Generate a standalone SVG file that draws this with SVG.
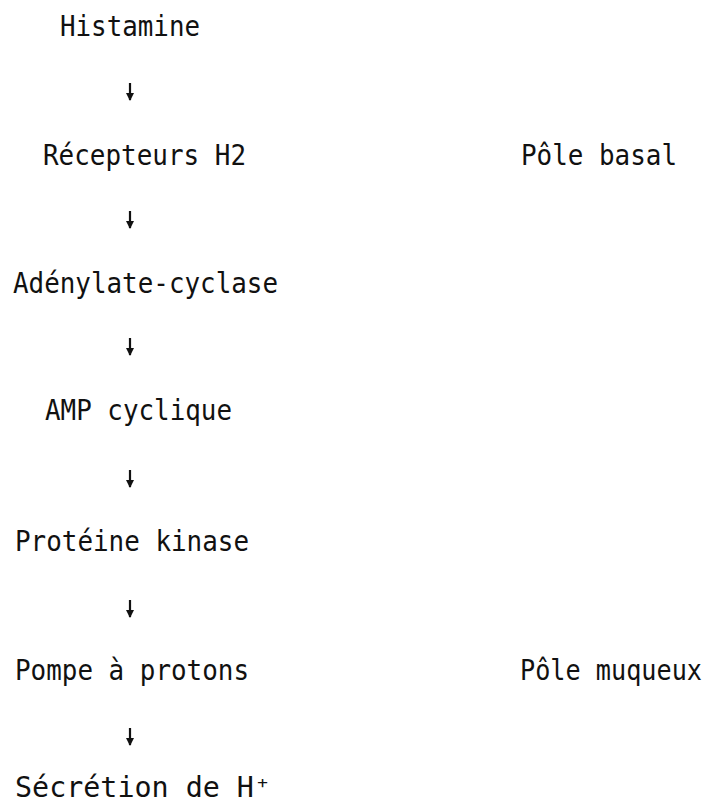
<svg xmlns="http://www.w3.org/2000/svg" width="719" height="810" viewBox="0 0 719 810">
<style>
text{font-family:"DejaVu Sans Mono","Liberation Mono",monospace;font-size:28px;fill:#111}
.c line{stroke:#111;stroke-width:2.2}
</style>
<defs>
<marker id="ah" viewBox="0 0 8 8" refX="7" refY="4" markerWidth="8" markerHeight="8" markerUnits="userSpaceOnUse" orient="auto">
<path d="M0,0 L8,4 L0,8 Z" fill="#111"/>
</marker>
</defs>
<rect width="719" height="810" fill="#fff"/>
<g id="n1"><text x="60" y="36" textLength="140" lengthAdjust="spacingAndGlyphs">Histamine</text></g>
<g id="n2"><text x="43" y="165" textLength="203" lengthAdjust="spacingAndGlyphs">Récepteurs H2</text></g>
<g id="n3"><text x="13" y="293" textLength="265" lengthAdjust="spacingAndGlyphs">Adénylate-cyclase</text></g>
<g id="n4"><text x="45" y="420" textLength="187" lengthAdjust="spacingAndGlyphs">AMP cyclique</text></g>
<g id="n5"><text x="15" y="551" textLength="234" lengthAdjust="spacingAndGlyphs">Protéine kinase</text></g>
<g id="n6"><text x="15" y="680" textLength="234" lengthAdjust="spacingAndGlyphs">Pompe à protons</text></g>
<g id="n7"><text x="15" y="797" textLength="256" lengthAdjust="spacingAndGlyphs">Sécrétion de H⁺</text></g>
<g id="l1"><text x="521" y="165" textLength="156" lengthAdjust="spacingAndGlyphs">Pôle basal</text></g>
<g id="l2" transform="translate(520,680) scale(1,1.077)"><text x="0" y="0" style="font-size:26px" textLength="182" lengthAdjust="spacingAndGlyphs">Pôle muqueux</text></g>
<g class="c" id="connectors">
<line x1="130" y1="83" x2="130" y2="100" marker-end="url(#ah)"/>
<line x1="130" y1="211" x2="130" y2="228" marker-end="url(#ah)"/>
<line x1="130" y1="338" x2="130" y2="355" marker-end="url(#ah)"/>
<line x1="130" y1="470" x2="130" y2="487" marker-end="url(#ah)"/>
<line x1="130" y1="600" x2="130" y2="617" marker-end="url(#ah)"/>
<line x1="130" y1="728" x2="130" y2="745" marker-end="url(#ah)"/>
</g>
</svg>
